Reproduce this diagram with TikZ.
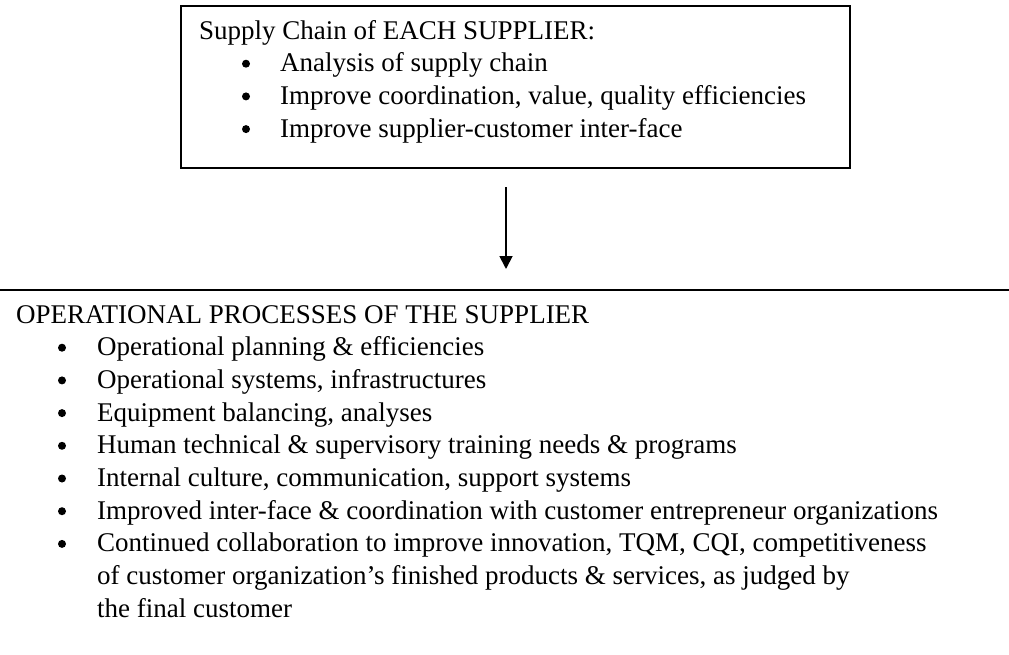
\documentclass[tikz,border=0pt]{standalone}
\usepackage{fontspec}
\setmainfont{Liberation Serif}
\usetikzlibrary{arrows.meta}
\newcommand{\txtsize}{\fontsize{27}{32.7}\selectfont}

\begin{document}
\begin{tikzpicture}[x=1pt,y=-1pt,
	txt/.style={anchor=base west,inner sep=0pt,font=\txtsize},
	bul/.style={circle,fill,inner sep=0pt,minimum size=8pt}]
	\useasboundingbox (0,0) rectangle (1009,654);
	\def\sp{32.7} % line spacing
	\def\tb{39}   % first baseline in box
	\def\bb{323}  % first baseline below rule
	
	% supply chain box
	\node[draw,line width=1.6pt,minimum width=669pt,minimum height=162pt,inner sep=0pt] (chain) at (515.5,87) {};
	\node[txt] (chainhead) at (199,\tb) {Supply Chain of EACH SUPPLIER:};
	\foreach \t [count=\i] in {Analysis of supply chain,{Improve coordination, value, quality efficiencies},Improve supplier-customer inter-face} {
		\node[bul] (cb\i) at (246,\tb+\i*\sp-8) {};
		\node[txt] (ci\i) at (280,\tb+\i*\sp) {\t};}
	
	% arrow down to the operational part
	\coordinate (arrtop) at (506,187);
	\coordinate (arrtip) at (506,269);
	\draw[-{Triangle[length=13pt,width=13pt]},line width=1.8pt] (arrtop) -- (arrtip);
	\coordinate (rulel) at (0,289.5);
	\coordinate (ruler) at (1009,289.5);
	\draw[line width=2pt] (rulel) -- (ruler);
	
	% operational processes
	\node[txt] (opshead) at (16,\bb) {OPERATIONAL PROCESSES OF THE SUPPLIER};
	\foreach \t [count=\i] in {Operational planning \& efficiencies,{Operational systems, infrastructures},{Equipment balancing, analyses},Human technical \& supervisory training needs \& programs,{Internal culture, communication, support systems},Improved inter-face \& coordination with customer entrepreneur organizations,{Continued collaboration to improve innovation, TQM, CQI, competitiveness}} {
		\node[bul] (ob\i) at (62,\bb+\i*\sp-8) {};
		\node[txt] (oi\i) at (97,\bb+\i*\sp) {\t};}
	\node[txt] (oi7b) at (97,\bb+8*\sp) {of customer organization’s finished products \& services, as judged by};
	\node[txt] (oi7c) at (97,\bb+9*\sp) {the final customer};
\end{tikzpicture}
\end{document}
